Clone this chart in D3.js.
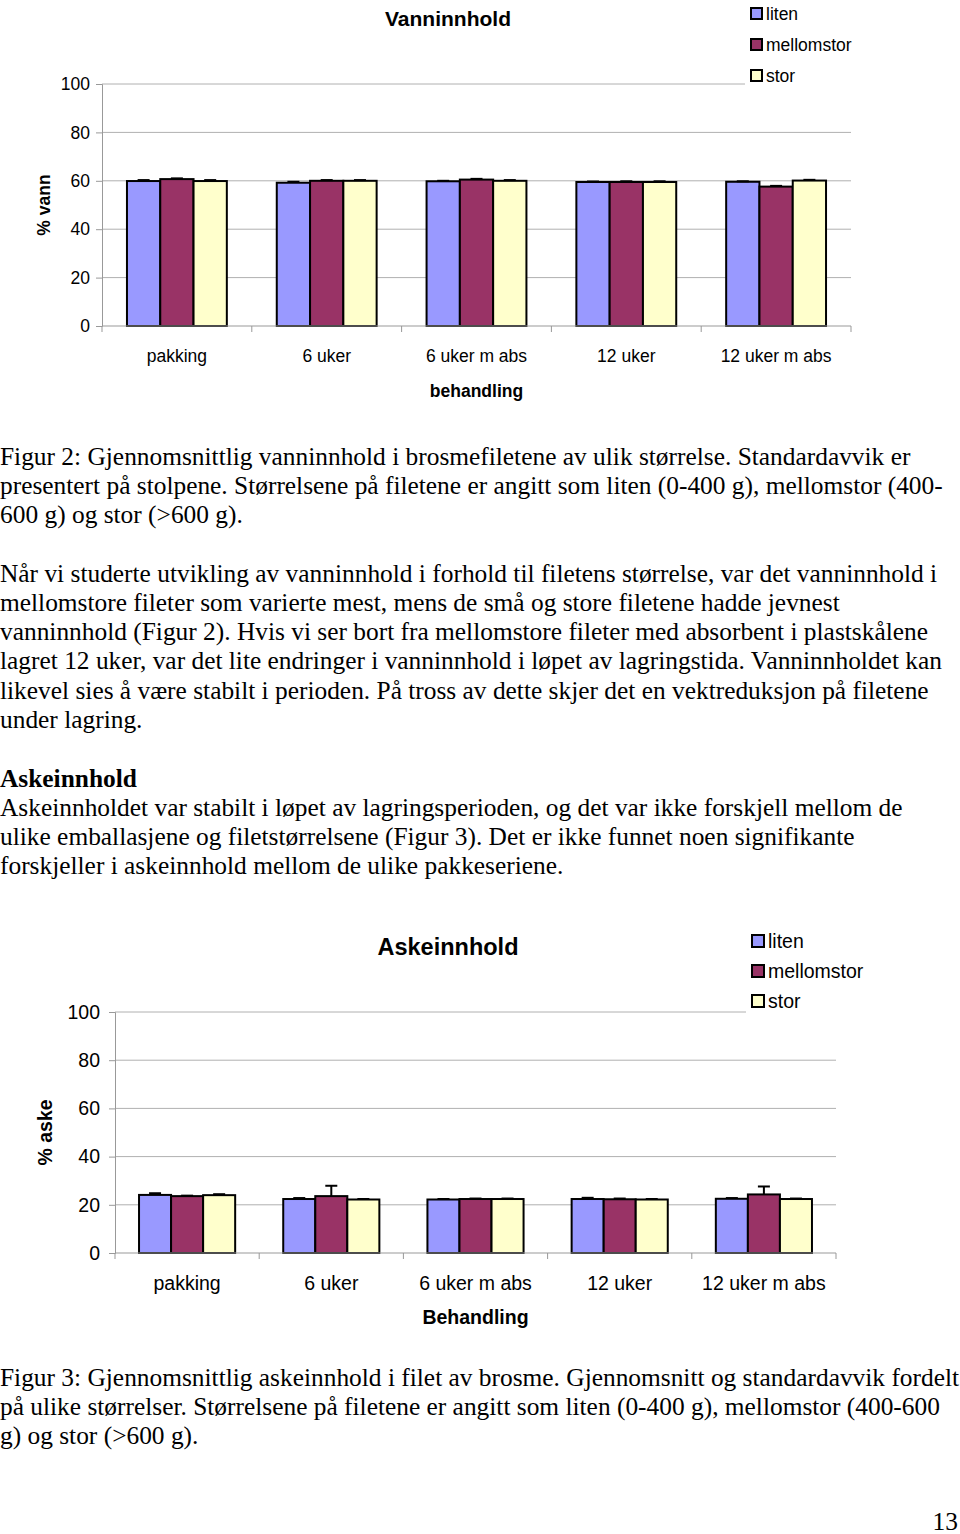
<!DOCTYPE html>
<html>
<head>
<meta charset="utf-8">
<script src="https://cdn.jsdelivr.net/npm/d3@7"></script>
<style>
  body { margin: 0; background: #fff; }
  svg { display: block; }
</style>
</head>
<body>
<svg id="page" width="960" height="1534"></svg>
<script>
// categories + series
const categories = ['pakking', '6 uker', '6 uker m abs', '12 uker', '12 uker m abs'];
const seriesNames = ['liten', 'mellomstor', 'stor'];
const seriesColors = ['#9999FF', '#993366', '#FFFFCC'];
const yTicks = [0, 20, 40, 60, 80, 100];

// Figur 2: vanninnhold
const vannLiten = [59.9, 59.2, 59.8, 59.5, 59.6];
const vannMellom = [60.7, 60.0, 60.5, 59.5, 57.6];
const vannStor = [59.9, 60.0, 60.0, 59.5, 60.1];
const vannErrLiten = [0.4, 0.4, 0.2, 0.2, 0.2];
const vannErrMellom = [0.3, 0.3, 0.3, 0.3, 0.3];
const vannErrStor = [0.4, 0.3, 0.3, 0.3, 0.3];

// Figur 3: askeinnhold
const askeLiten = [24.1, 22.4, 22.2, 22.4, 22.5];
const askeMellom = [23.6, 23.6, 22.4, 22.3, 24.3];
const askeStor = [24.0, 22.2, 22.4, 22.2, 22.4];
const askeErrLiten = [0.7, 0.4, 0.2, 0.5, 0.3];
const askeErrMellom = [0.2, 4.3, 0.2, 0.3, 3.3];
const askeErrStor = [0.4, 0.2, 0.2, 0.2, 0.2];

const svg = d3.select('#page');
const sans = '"Liberation Sans", Arial, sans-serif';
const serif = '"Liberation Serif", "Times New Roman", serif';

function drawChart(o){
  const g = svg.append('g');
  const x = d3.scaleBand().domain(categories).range([o.left, o.right]);
  const bw = x.bandwidth();
  const xs = d3.scaleBand().domain(seriesNames).range([bw/6, bw*5/6]);
  const y = d3.scaleLinear().domain([0, 100]).range([o.bottom, o.top]);

  // gridlines
  g.selectAll('line.grid').data(yTicks.filter(t => t > 0)).enter().append('line')
    .attr('x1', o.left).attr('x2', t => t === 100 ? o.legendX : o.right)
    .attr('y1', t => y(t)).attr('y2', t => y(t))
    .attr('stroke', '#b0b0b0').attr('stroke-width', 1);

  // y axis
  const yAxis = d3.axisLeft(y).tickValues(yTicks).tickSize(6).tickPadding(o.tickPad);
  const ya = g.append('g').attr('transform', `translate(${o.left},0)`).call(yAxis);
  ya.select('.domain').attr('stroke', '#999');
  ya.selectAll('.tick line').attr('stroke', '#999');
  ya.selectAll('.tick text').attr('font-family', sans).attr('font-size', o.fs).attr('fill', '#000');

  // bars
  const sets = [o.d1, o.d2, o.d3];
  const errs = [o.e1, o.e2, o.e3];
  seriesNames.forEach((s, si) => {
    const rows = categories.map((c, i) => ({c, v: sets[si][i], e: errs[si][i]}));
    const sg = g.append('g');
    sg.selectAll('rect').data(rows).enter().append('rect')
      .attr('x', d => x(d.c) + xs(s)).attr('width', xs.bandwidth())
      .attr('y', d => y(d.v)).attr('height', d => y(0) - y(d.v))
      .attr('fill', seriesColors[si]).attr('stroke', '#000').attr('stroke-width', 2);
    // error bars
    sg.selectAll('line.err').data(rows).enter().append('line')
      .attr('x1', d => x(d.c) + xs(s) + xs.bandwidth()/2).attr('x2', d => x(d.c) + xs(s) + xs.bandwidth()/2)
      .attr('y1', d => y(d.v)).attr('y2', d => y(d.v + d.e))
      .attr('stroke', '#000').attr('stroke-width', 2);
    sg.selectAll('line.cap').data(rows).enter().append('line')
      .attr('x1', d => x(d.c) + xs(s) + xs.bandwidth()/2 - 6).attr('x2', d => x(d.c) + xs(s) + xs.bandwidth()/2 + 6)
      .attr('y1', d => y(d.v + d.e)).attr('y2', d => y(d.v + d.e))
      .attr('stroke', '#000').attr('stroke-width', 2);
  });

  // x axis
  const xa = g.append('g').attr('transform', `translate(0,${o.bottom})`);
  xa.append('line').attr('x1', o.left).attr('x2', o.right).attr('stroke', '#999');
  const bounds = categories.map(c => x(c)).concat([o.right]);
  xa.selectAll('line.t').data(bounds).enter().append('line')
    .attr('x1', d => d).attr('x2', d => d).attr('y1', 0).attr('y2', 6).attr('stroke', '#999');
  xa.selectAll('text').data(categories).enter().append('text')
    .attr('x', c => x(c) + bw/2).attr('y', o.catY - o.bottom)
    .attr('text-anchor', 'middle').attr('font-family', sans).attr('font-size', o.fs).text(c => c);

  // titles
  g.append('text').attr('x', o.titleX).attr('y', o.titleY).attr('text-anchor', 'middle')
    .attr('font-family', sans).attr('font-weight', 'bold').attr('font-size', o.titleFs).text(o.title);
  g.append('text').attr('x', (o.left + o.right)/2).attr('y', o.xTitleY).attr('text-anchor', 'middle')
    .attr('font-family', sans).attr('font-weight', 'bold').attr('font-size', o.fs).text(o.xTitle);
  g.append('text').attr('transform', `translate(${o.yTitleX},${(o.top + o.bottom)/2}) rotate(-90)`)
    .attr('text-anchor', 'middle').attr('font-family', sans).attr('font-weight', 'bold')
    .attr('font-size', o.fs).text(o.yTitle);

  // legend
  const lg = g.append('g').attr('transform', `translate(${o.legendX + 6},${o.legendY})`);
  seriesNames.forEach((s, i) => {
    lg.append('rect').attr('x', 0).attr('y', i * o.legendStep).attr('width', o.sw).attr('height', o.sw)
      .attr('fill', seriesColors[i]).attr('stroke', '#000').attr('stroke-width', 2);
    lg.append('text').attr('x', o.sw + 4).attr('y', i * o.legendStep + o.sw/2).attr('dy', '0.35em')
      .attr('font-family', sans).attr('font-size', o.fs).text(s);
  });
}

drawChart({
  left: 102, right: 851, top: 84, bottom: 326, legendX: 745, legendY: 8, legendStep: 31, sw: 11,
  fs: 17.5, tickPad: 6, catY: 362, xTitleY: 397, titleX: 448, titleY: 26, titleFs: 21,
  yTitleX: 50, title: 'Vanninnhold', xTitle: 'behandling', yTitle: '% vann',
  d1: vannLiten, d2: vannMellom, d3: vannStor, e1: vannErrLiten, e2: vannErrMellom, e3: vannErrStor
});

drawChart({
  left: 115, right: 836, top: 1012, bottom: 1253, legendX: 746, legendY: 935, legendStep: 30, sw: 12,
  fs: 19.5, tickPad: 9, catY: 1290, xTitleY: 1324, titleX: 448, titleY: 955, titleFs: 23.5,
  yTitleX: 52, title: 'Askeinnhold', xTitle: 'Behandling', yTitle: '% aske',
  d1: askeLiten, d2: askeMellom, d3: askeStor, e1: askeErrLiten, e2: askeErrMellom, e3: askeErrStor
});

// body text
const bodyFs = 25.4;
const textLines = [
  [465, 'Figur 2: Gjennomsnittlig vanninnhold i brosmefiletene av ulik størrelse. Standardavvik er'],
  [494, 'presentert på stolpene. Størrelsene på filetene er angitt som liten (0-400 g), mellomstor (400-'],
  [523, '600 g) og stor (>600 g).'],
  [582, 'Når vi studerte utvikling av vanninnhold i forhold til filetens størrelse, var det vanninnhold i'],
  [611, 'mellomstore fileter som varierte mest, mens de små og store filetene hadde jevnest'],
  [640, 'vanninnhold (Figur 2). Hvis vi ser bort fra mellomstore fileter med absorbent i plastskålene'],
  [669, 'lagret 12 uker, var det lite endringer i vanninnhold i løpet av lagringstida. Vanninnholdet kan'],
  [699, 'likevel sies å være stabilt i perioden. På tross av dette skjer det en vektreduksjon på filetene'],
  [728, 'under lagring.'],
  [816, 'Askeinnholdet var stabilt i løpet av lagringsperioden, og det var ikke forskjell mellom de'],
  [845, 'ulike emballasjene og filetstørrelsene (Figur 3). Det er ikke funnet noen signifikante'],
  [874, 'forskjeller i askeinnhold mellom de ulike pakkeseriene.'],
  [1386, 'Figur 3: Gjennomsnittlig askeinnhold i filet av brosme. Gjennomsnitt og standardavvik fordelt'],
  [1415, 'på ulike størrelser. Størrelsene på filetene er angitt som liten (0-400 g), mellomstor (400-600'],
  [1444, 'g) og stor (>600 g).']
];
svg.selectAll('text.body').data(textLines).enter().append('text').attr('class', 'body')
  .attr('x', 0).attr('y', d => d[0]).attr('font-family', serif).attr('font-size', bodyFs)
  .attr('fill', '#000').text(d => d[1]);
svg.append('text').attr('x', 0).attr('y', 787).attr('font-family', serif).attr('font-size', bodyFs)
  .attr('font-weight', 'bold').text('Askeinnhold');
svg.append('text').attr('x', 958).attr('y', 1530).attr('text-anchor', 'end').attr('font-family', serif)
  .attr('font-size', bodyFs).text('13');
</script>
</body>
</html>
